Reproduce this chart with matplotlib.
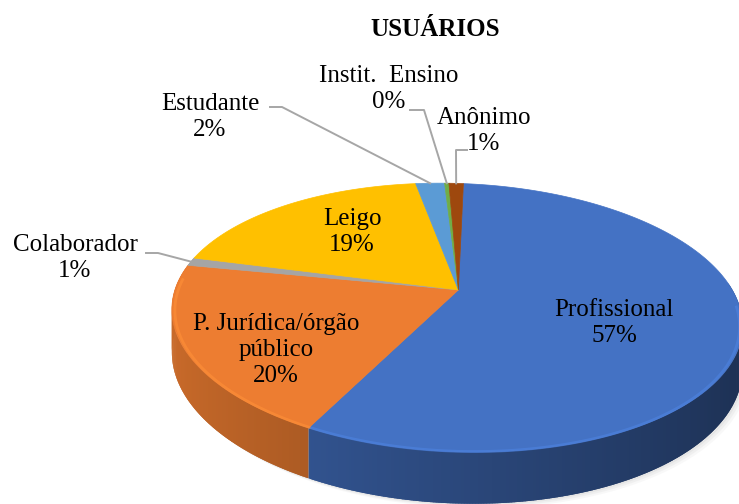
import numpy as np
import matplotlib
matplotlib.use("Agg")
import matplotlib.pyplot as plt
from matplotlib.colors import to_rgb

title = "USUÁRIOS"
categories = ["Profissional", "P. Jurídica/órgão\npúblico", "Colaborador", "Leigo",
              "Estudante", "Instit.  Ensino", "Anônimo"]
values = [57, 20, 1, 19, 2, 0.3, 1]
colors = ["#4472C4", "#ED7D31", "#A5A5A5", "#FFC000", "#5B9BD5", "#70AD47", "#9E480E"]

# label placement (pixels): inside labels, outside labels and leader elbows
inside_pos = {0: (614, 323), 1: (276, 350), 3: (352, 232)}
outside_pos = {2: (75, 258), 4: (210, 117), 5: (389, 89), 6: (484, 131)}
leader_pts = {2: [(146, 253), (158, 253)], 4: [(270, 107), (282, 107)],
              5: [(410, 110), (424, 110)], 6: [(467, 150), (456, 150)]}

# perspective view of the disc (pixels)
CX, CY = 458.4, 289.9
A, C, B, S = 278.9, 11.9, 128.0, 13.7
K, L = 0.2067, -0.0047
PHI = -0.021
DEPTH = 41.0


def project(theta, r=1.0):
    t = theta + PHI
    u = r * np.sin(t)
    v = r * np.cos(t)
    w = 1 + K * v + L * u
    x = CX + (A * u + C * v) / w
    y = CY + (S * u - B * v) / w
    return x, y, DEPTH / w


def shade(c, f):
    return tuple(np.clip(np.array(to_rgb(c)) * f, 0, 1))


plt.rcParams['font.family'] = ['Liberation Serif', 'DejaVu Serif']
fig = plt.figure(figsize=(7.39, 5.04), dpi=100)
ax = fig.add_axes([0, 0, 1, 1])
ax.set_xlim(0, 739)
ax.set_ylim(504, 0)
ax.axis('off')

vals = np.array(values, dtype=float)
bounds = np.concatenate([[0], np.cumsum(vals / vals.sum())]) * 2 * np.pi
pcts = np.round(vals / vals.sum() * 100).astype(int)

# soft shadow below the pie
th = np.linspace(0, 2 * np.pi, 400)
sx, sy, sd = project(th)
for off, al in [(9, 0.10), (6, 0.14), (3, 0.2)]:
    ax.fill(sx + off * 0.7, sy + sd + off * 0.5, color="#bfbfbf", alpha=al, lw=0, zorder=1)

# side walls, cut in thin pieces for a light-to-dark shading
step = 0.008
segs = []
for i in range(len(vals)):
    n = max(2, int(np.ceil((bounds[i + 1] - bounds[i]) / step)))
    t = np.linspace(bounds[i], bounds[i + 1], n + 1)
    for a0, a1 in zip(t[:-1], t[1:]):
        m = 0.5 * (a0 + a1) + PHI
        if np.cos(m) < 0.15:
            segs.append((np.cos(m), i, a0, a1))
segs.sort(key=lambda s: -s[0])
for _, i, a0, a1 in segs:
    ov = 0.6 * (a1 - a0)
    lo = max(a0 - ov, bounds[i])
    hi = min(a1 + ov, bounds[i + 1])
    tt = np.linspace(lo, hi, 3)
    x, y, d = project(tt)
    f = 0.64 + 0.22 * np.sin(0.5 * (a0 + a1) + PHI - np.pi)
    ax.fill(np.r_[x, x[::-1]], np.r_[y, (y + d)[::-1]], color=shade(colors[i], f),
            lw=0, zorder=2)

# top faces
for i in range(len(vals)):
    t = np.linspace(bounds[i], bounds[i + 1], 200)
    x, y, _ = project(t)
    ax.fill(np.r_[CX, x], np.r_[CY, y], color=colors[i], ec=colors[i], lw=0.5, zorder=3)
    # bevel highlight along the front rim
    tf = t[np.cos(t + PHI) < 0.0]
    if len(tf) > 1:
        hx, hy, _ = project(tf, 0.99)
        ax.plot(hx, hy + 1.5, color=shade(colors[i], 1.15), lw=2.0, alpha=0.6,
                solid_capstyle='butt', zorder=4)

# data labels
for i, (tx, ty) in inside_pos.items():
    ax.text(tx, ty, f"{categories[i]}\n{pcts[i]}%", ha='center', va='center',
            fontsize=18, linespacing=1.25, color='#000000', zorder=6)
for i, (tx, ty) in outside_pos.items():
    ax.text(tx, ty, f"{categories[i]}\n{pcts[i]}%", ha='center', va='center',
            fontsize=18, linespacing=1.25, color='#000000', zorder=6)
    mid = 0.5 * (bounds[i] + bounds[i + 1])
    px, py, _ = project(mid)
    pts = leader_pts[i] + [(px, py)]
    ax.plot([p[0] for p in pts], [p[1] for p in pts], color='#A6A6A6', lw=1.4, zorder=5)

ax.text(435, 29, title, ha='center', va='center', fontsize=18, fontweight='bold')

fig.savefig("out.png", dpi=100)
